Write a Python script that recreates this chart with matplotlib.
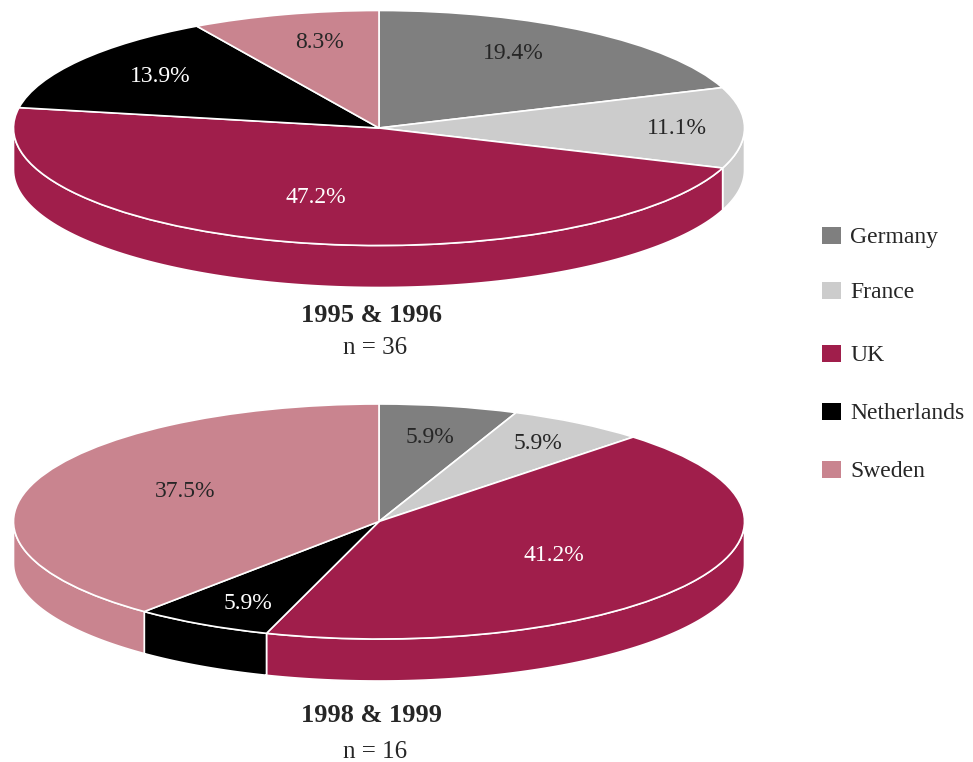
#!/usr/bin/env python3
import numpy as np
import matplotlib
matplotlib.use('Agg')
import matplotlib.pyplot as plt
from matplotlib.patches import Rectangle

W, H = 973, 762
plt.rcParams.update({'font.family': 'Liberation Serif', 'font.size': 17, 'text.color': '#262626'})

countries = ['Germany', 'France', 'UK', 'Netherlands', 'Sweden']
colors = ['#7f7f7f', '#cccccc', '#a01e4b', '#000000', '#c9848f']
label_colors = ['#262626', '#262626', 'white', 'white', '#262626']
top_values = [19.4, 11.1, 47.2, 13.9, 8.3]
bottom_values = [5.9, 5.9, 41.2, 5.9, 37.5]
legend_y = [235, 290, 353, 411, 469]

RX, RY, DEPTH = 365.5, 117.5, 42
CX = 379
DY = 2.5  # va=center sits a bit high for this font


def draw_pie(fig, cy, values):
    # axes spans the ellipse plus the rim, pie squashed by auto aspect
    d = DEPTH / RY
    ax = fig.add_axes([(CX - RX) / W, 1 - (cy + RY + DEPTH) / H, 2 * RX / W, (2 * RY + DEPTH) / H])
    # rim first so the top face covers it
    frac = np.array(values) / sum(values)
    edges = np.concatenate([[0], np.cumsum(frac)]) * 360
    for i in range(len(values)):
        a0, a1 = max(edges[i], 90), min(edges[i + 1], 270)
        if a1 <= a0:
            continue
        t = np.radians(np.linspace(a0, a1, 120))
        x, y = np.sin(t), np.cos(t)
        ax.fill(np.r_[x, x[::-1]], np.r_[y, y[::-1] - d], color=colors[i], ec='white', lw=1.2, zorder=1)
    wedges, _ = ax.pie(values, colors=colors, startangle=90, counterclock=False, radius=1,
                       wedgeprops=dict(edgecolor='white', linewidth=1.2, zorder=2))
    ax.set_aspect('auto')
    ax.set_xlim(-1, 1)
    ax.set_ylim(-1 - d, 1)
    ax.axis('off')
    for p in ax.patches:
        p.set_clip_on(False)
    return ax


fig = plt.figure(figsize=(W / 100, H / 100), dpi=100)
draw_pie(fig, 128, top_values)
draw_pie(fig, 521.5, bottom_values)

# overlay in pixel coords for labels and legend
ov = fig.add_axes([0, 0, 1, 1], zorder=5)
ov.set_xlim(0, W)
ov.set_ylim(H, 0)
ov.axis('off')

top_pos = [(513, 51), (677, 126), (316, 195), (160, 74), (319, 40)]
bottom_pos = [(430, 435), (538, 441), (554, 553), (248, 601), (185, 489)]
for vals, pos in ((top_values, top_pos), (bottom_values, bottom_pos)):
    for v, (x, y), c in zip(vals, pos, label_colors):
        ov.text(x, y + DY, f'{v}%', color=c, ha='center', va='center', fontsize=17)

ov.text(371.5, 316, '1995 & 1996', ha='center', va='center', fontweight='bold', fontsize=19)
ov.text(375, 347.5, 'n = 36', ha='center', va='center', fontsize=18)
ov.text(371.5, 716, '1998 & 1999', ha='center', va='center', fontweight='bold', fontsize=19)
ov.text(375, 752.5, 'n = 16', ha='center', va='center', fontsize=18)

for name, c, y in zip(countries, colors, legend_y):
    ov.add_patch(Rectangle((822, y - 8), 19, 16.5, color=c, lw=0))
    ov.text(850, y + DY, name, ha='left', va='center', fontsize=17)

plt.savefig('out.png', dpi=100)
plt.close()
